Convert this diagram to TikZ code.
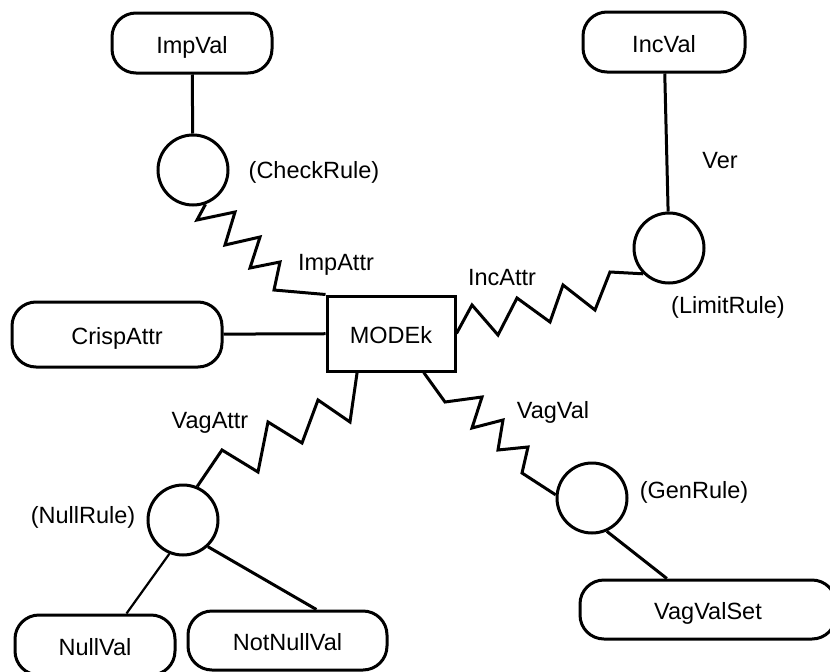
\documentclass[tikz,border=0pt]{standalone}
\usepackage{fontspec}
\setmainfont{Liberation Sans}
\begin{document}
\begin{tikzpicture}[x=1pt,y=-1pt,
  every node/.style={font=\fontsize{23.5}{28}\selectfont},
  edge/.style={line width=3pt},
  thinedge/.style={line width=2.2pt},
  valbox/.style={draw,line width=3pt,rounded corners=24pt,inner sep=0pt,
                 minimum height=60pt,text height=20pt,text depth=0pt},
  entity/.style={draw,line width=3pt,inner sep=0pt,minimum width=128pt,
                 minimum height=75pt,text height=20pt,text depth=0pt},
  rule/.style={draw,circle,line width=3pt,inner sep=0pt,minimum size=70pt},
  lbl/.style={anchor=base,inner sep=0pt}]
  \clip (0,0) rectangle (830,672);
  \fill[white] (0,0) rectangle (830,672);

  % central entity
  \node[entity] (mod) at (391,333.5) {MODEk};

  % value sets
  \node[valbox,minimum width=160pt] (imp) at (192,43) {ImpVal};
  \node[valbox,minimum width=162pt] (inc) at (664,42) {IncVal};
  \node[valbox,minimum width=210pt,minimum height=65pt] (crisp) at (117,334.5) {CrispAttr};
  \node[valbox,minimum width=160pt] (nv) at (95,645) {NullVal};
  \node[valbox,minimum width=199pt,minimum height=59pt] (nnv) at (287.5,640.5) {NotNullVal};
  \node[valbox,minimum width=256pt,minimum height=59pt] (vvs) at (708,609.5) {VagValSet};

  % rules
  \node[rule] (chk) at (193,170) {};
  \node[rule] (lim) at (669,248) {};
  \node[rule] (nul) at (183,520) {};
  \node[rule] (gen) at (592,498) {};

  % plain connectors
  \draw[edge] (imp) -- (chk);
  \draw[edge] (inc) -- (lim);
  \draw[edge] (crisp) -- (mod);
  \draw[thinedge] (nul.-112) -- (nv.45);
  \draw[edge] (nul.-47) -- (nnv.47);
  \draw[edge] (gen.-66) -- (vvs.143);

  % zigzag connectors
  \draw[edge] (chk.-70) -- (197,220) -- (235,212) -- (225,245) -- (260,237)
    -- (250,268) -- (280,262) -- (274,290) -- (mod.north west);
  \draw[edge] (mod.east) -- (472,305) -- (498,335) -- (517,298) -- (550,322)
    -- (563,285) -- (595,310) -- (610,272) -- (lim.-135);
  \draw[edge] (mod.-131) -- (350,422) -- (318,400) -- (302,443) -- (268,422)
    -- (258,472) -- (222,450) -- (nul.67);
  \draw[edge] (mod.-50) -- (445,402) -- (482,397) -- (472,428) -- (503,420)
    -- (498,450) -- (528,447) -- (522,473) -- (gen.175);

  % labels
  \node[lbl] (lchk) at (314,178) {(CheckRule)};
  \node[lbl] (limpattr) at (336,270) {ImpAttr};
  \node[lbl] (lincattr) at (502,285) {IncAttr};
  \node[lbl] (lver) at (720,168) {Ver};
  \node[lbl] (llim) at (728,313) {(LimitRule)};
  \node[lbl] (lvagattr) at (210,428) {VagAttr};
  \node[lbl] (lnul) at (83,523) {(NullRule)};
  \node[lbl] (lvagval) at (553,418) {VagVal};
  \node[lbl] (lgen) at (694,498) {(GenRule)};
\end{tikzpicture}
\end{document}
